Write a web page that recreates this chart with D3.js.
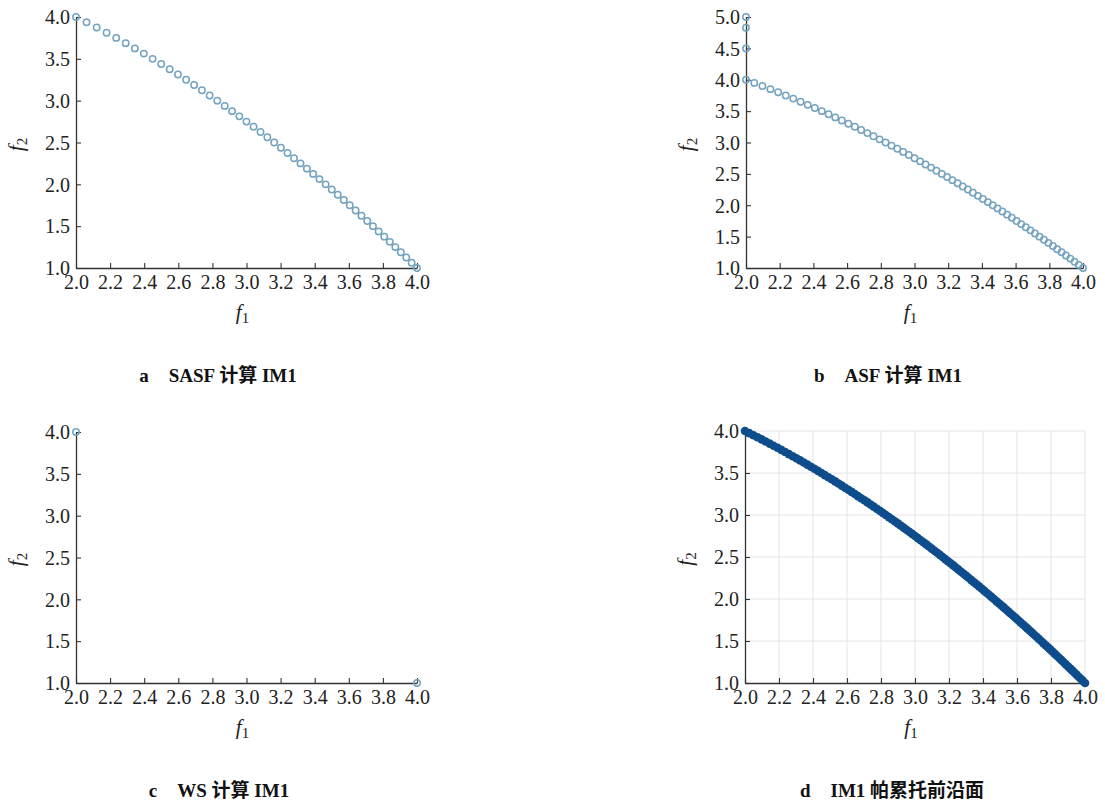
<!DOCTYPE html>
<html>
<head>
<meta charset="utf-8">
<script src="https://cdn.jsdelivr.net/npm/d3@7"></script>
<style>
  html, body { margin: 0; padding: 0; background: #fff; }
  svg { display: block; }
</style>
</head>
<body>
<svg id="chart" width="1105" height="802"></svg>
<script>
// Pareto solutions of IM1 (f1, f2) found by each method
const xTicks = [2.0, 2.2, 2.4, 2.6, 2.8, 3.0, 3.2, 3.4, 3.6, 3.8, 4.0];
const yTicks4 = [1.0, 1.5, 2.0, 2.5, 3.0, 3.5, 4.0];
const yTicks5 = [1.0, 1.5, 2.0, 2.5, 3.0, 3.5, 4.0, 4.5, 5.0];

// a  SASF
const sasfF1 = [2.0000, 2.0616, 2.1213, 2.1794, 2.2361, 2.2913, 2.3452, 2.3979, 2.4495, 2.5000,
  2.5495, 2.5981, 2.6458, 2.6926, 2.7386, 2.7839, 2.8284, 2.8723, 2.9155, 2.9580,
  3.0000, 3.0414, 3.0822, 3.1225, 3.1623, 3.2016, 3.2404, 3.2787, 3.3166, 3.3541,
  3.3912, 3.4278, 3.4641, 3.5000, 3.5355, 3.5707, 3.6056, 3.6401, 3.6742, 3.7081,
  3.7417, 3.7749, 3.8079, 3.8406, 3.8730, 3.9051, 3.9370, 3.9686, 4.0000];
const sasfF2 = [4.0000, 3.9375, 3.8750, 3.8125, 3.7500, 3.6875, 3.6250, 3.5625, 3.5000, 3.4375,
  3.3750, 3.3125, 3.2500, 3.1875, 3.1250, 3.0625, 3.0000, 2.9375, 2.8750, 2.8125,
  2.7500, 2.6875, 2.6250, 2.5625, 2.5000, 2.4375, 2.3750, 2.3125, 2.2500, 2.1875,
  2.1250, 2.0625, 2.0000, 1.9375, 1.8750, 1.8125, 1.7500, 1.6875, 1.6250, 1.5625,
  1.5000, 1.4375, 1.3750, 1.3125, 1.2500, 1.1875, 1.1250, 1.0625, 1.0000];

// b  ASF
const asfF1 = [2.0000, 2.0000, 2.0000, 2.0000, 2.0494, 2.0976, 2.1448, 2.1909, 2.2361, 2.2804,
  2.3238, 2.3664, 2.4083, 2.4495, 2.4900, 2.5298, 2.5690, 2.6077, 2.6458, 2.6833,
  2.7203, 2.7568, 2.7928, 2.8284, 2.8636, 2.8983, 2.9326, 2.9665, 3.0000, 3.0332,
  3.0659, 3.0984, 3.1305, 3.1623, 3.1937, 3.2249, 3.2558, 3.2863, 3.3166, 3.3466,
  3.3764, 3.4059, 3.4351, 3.4641, 3.4928, 3.5214, 3.5496, 3.5777, 3.6056, 3.6332,
  3.6606, 3.6878, 3.7148, 3.7417, 3.7683, 3.7947, 3.8210, 3.8471, 3.8730, 3.8987,
  3.9243, 3.9497, 3.9749, 4.0000];
const asfF2 = [5.00, 4.83, 4.50, 4.00, 3.95, 3.90, 3.85, 3.80, 3.75, 3.70,
  3.65, 3.60, 3.55, 3.50, 3.45, 3.40, 3.35, 3.30, 3.25, 3.20,
  3.15, 3.10, 3.05, 3.00, 2.95, 2.90, 2.85, 2.80, 2.75, 2.70,
  2.65, 2.60, 2.55, 2.50, 2.45, 2.40, 2.35, 2.30, 2.25, 2.20,
  2.15, 2.10, 2.05, 2.00, 1.95, 1.90, 1.85, 1.80, 1.75, 1.70,
  1.65, 1.60, 1.55, 1.50, 1.45, 1.40, 1.35, 1.30, 1.25, 1.20,
  1.15, 1.10, 1.05, 1.00];

// c  WS
const wsF1 = [2.0, 4.0];
const wsF2 = [4.0, 1.0];

// d  IM1 Pareto front
const frontF1 = [2.0000, 2.0248, 2.0494, 2.0736, 2.0976, 2.1213, 2.1448, 2.1679, 2.1909, 2.2136,
  2.2361, 2.2583, 2.2804, 2.3022, 2.3238, 2.3452, 2.3664, 2.3875, 2.4083, 2.4290,
  2.4495, 2.4698, 2.4900, 2.5100, 2.5298, 2.5495, 2.5690, 2.5884, 2.6077, 2.6268,
  2.6458, 2.6646, 2.6833, 2.7019, 2.7203, 2.7386, 2.7568, 2.7749, 2.7928, 2.8107,
  2.8284, 2.8460, 2.8636, 2.8810, 2.8983, 2.9155, 2.9326, 2.9496, 2.9665, 2.9833,
  3.0000, 3.0166, 3.0332, 3.0496, 3.0659, 3.0822, 3.0984, 3.1145, 3.1305, 3.1464,
  3.1623, 3.1780, 3.1937, 3.2094, 3.2249, 3.2404, 3.2558, 3.2711, 3.2863, 3.3015,
  3.3166, 3.3317, 3.3466, 3.3615, 3.3764, 3.3912, 3.4059, 3.4205, 3.4351, 3.4496,
  3.4641, 3.4785, 3.4928, 3.5071, 3.5214, 3.5355, 3.5496, 3.5637, 3.5777, 3.5917,
  3.6056, 3.6194, 3.6332, 3.6469, 3.6606, 3.6742, 3.6878, 3.7014, 3.7148, 3.7283,
  3.7417, 3.7550, 3.7683, 3.7815, 3.7947, 3.8079, 3.8210, 3.8341, 3.8471, 3.8601,
  3.8730, 3.8859, 3.8987, 3.9115, 3.9243, 3.9370, 3.9497, 3.9623, 3.9749, 3.9875,
  4.0000];
const frontF2 = [4.000, 3.975, 3.950, 3.925, 3.900, 3.875, 3.850, 3.825, 3.800, 3.775,
  3.750, 3.725, 3.700, 3.675, 3.650, 3.625, 3.600, 3.575, 3.550, 3.525,
  3.500, 3.475, 3.450, 3.425, 3.400, 3.375, 3.350, 3.325, 3.300, 3.275,
  3.250, 3.225, 3.200, 3.175, 3.150, 3.125, 3.100, 3.075, 3.050, 3.025,
  3.000, 2.975, 2.950, 2.925, 2.900, 2.875, 2.850, 2.825, 2.800, 2.775,
  2.750, 2.725, 2.700, 2.675, 2.650, 2.625, 2.600, 2.575, 2.550, 2.525,
  2.500, 2.475, 2.450, 2.425, 2.400, 2.375, 2.350, 2.325, 2.300, 2.275,
  2.250, 2.225, 2.200, 2.175, 2.150, 2.125, 2.100, 2.075, 2.050, 2.025,
  2.000, 1.975, 1.950, 1.925, 1.900, 1.875, 1.850, 1.825, 1.800, 1.775,
  1.750, 1.725, 1.700, 1.675, 1.650, 1.625, 1.600, 1.575, 1.550, 1.525,
  1.500, 1.475, 1.450, 1.425, 1.400, 1.375, 1.350, 1.325, 1.300, 1.275,
  1.250, 1.225, 1.200, 1.175, 1.150, 1.125, 1.100, 1.075, 1.050, 1.025,
  1.000];

const captions = [
  ["a", "SASF 计算 IM1"],
  ["b", "ASF 计算 IM1"],
  ["c", "WS 计算 IM1"],
  ["d", "IM1 帕累托前沿面"]
];

const SERIF = "'Liberation Serif', 'Times New Roman', serif";
const CAPFONT = "'Liberation Serif', 'Noto Sans CJK SC', serif";

const svg = d3.select("#chart");

const panels = [
  { f1: sasfF1, f2: sasfF2, yDomain: [1, 4], yTicks: yTicks4, left: 76, right: 417, top: 17, bottom: 268, style: "open", cap: captions[0], capX: 218, capY: 382 },
  { f1: asfF1, f2: asfF2, yDomain: [1, 5], yTicks: yTicks5, left: 746, right: 1083, top: 17, bottom: 268, style: "open", cap: captions[1], capX: 888, capY: 382 },
  { f1: wsF1, f2: wsF2, yDomain: [1, 4], yTicks: yTicks4, left: 76, right: 417, top: 432, bottom: 683, style: "open", cap: captions[2], capX: 219, capY: 797 },
  { f1: frontF1, f2: frontF2, yDomain: [1, 4], yTicks: yTicks4, left: 745, right: 1085, top: 431, bottom: 683, style: "filled", grid: true, cap: captions[3], capX: 892, capY: 797 }
];

const defs = svg.append("defs");
defs.append("filter").attr("id", "soft")
  .append("feGaussianBlur").attr("stdDeviation", 0.45);

panels.forEach(p => {
  const x = d3.scaleLinear().domain([2, 4]).range([p.left, p.right]);
  const y = d3.scaleLinear().domain(p.yDomain).range([p.bottom, p.top]);
  const g = svg.append("g");

  if (p.grid) {
    const grid = g.append("g").attr("stroke", "#e4e4e4").attr("stroke-width", 1);
    grid.selectAll("line.v").data(xTicks.slice(1)).join("line")
      .attr("x1", d => x(d)).attr("x2", d => x(d))
      .attr("y1", p.top).attr("y2", p.bottom);
    grid.selectAll("line.h").data(p.yTicks.slice(1)).join("line")
      .attr("y1", d => y(d)).attr("y2", d => y(d))
      .attr("x1", p.left).attr("x2", p.right);
  }

  // axes with inward ticks
  const xAxis = d3.axisBottom(x).tickValues(xTicks).tickFormat(d3.format(".1f"))
    .tickSizeInner(-5).tickSizeOuter(0).tickPadding(7);
  const yAxis = d3.axisLeft(y).tickValues(p.yTicks).tickFormat(d3.format(".1f"))
    .tickSizeInner(-5).tickSizeOuter(0).tickPadding(6);

  const gx = g.append("g").attr("transform", `translate(0,${p.bottom})`).call(xAxis);
  const gy = g.append("g").attr("transform", `translate(${p.left},0)`).call(yAxis);
  [gx, gy].forEach(a => {
    a.attr("font-family", SERIF).attr("font-size", 20);
    a.select(".domain").attr("stroke", "#333").attr("stroke-width", 1.3);
    a.selectAll(".tick line").attr("stroke", "#333").attr("stroke-width", 1.1);
    a.selectAll(".tick text").attr("fill", "#222");
  });
  gx.selectAll(".tick text").attr("dy", "0.7em");
  gy.selectAll(".tick text").attr("dy", "0.34em");

  // axis titles
  const xt = g.append("text")
    .attr("font-family", SERIF).attr("font-size", 21).attr("fill", "#222")
    .attr("x", (p.left + p.right) / 2 - 4).attr("y", p.bottom + 51)
    .attr("text-anchor", "middle");
  xt.append("tspan").attr("font-style", "italic").text("f");
  xt.append("tspan").attr("font-size", 15).attr("dy", 4).text("1");

  const yt = g.append("text")
    .attr("font-family", SERIF).attr("font-size", 21).attr("fill", "#222")
    .attr("transform", `translate(${p.left - 53},${(p.top + p.bottom) / 2 + 2}) rotate(-90)`)
    .attr("text-anchor", "middle");
  yt.append("tspan").attr("font-style", "italic").text("f");
  yt.append("tspan").attr("font-size", 15).attr("dy", 4).text("2");

  const pts = d3.zip(p.f1, p.f2);
  const marks = g.append("g").attr("filter", "url(#soft)");
  if (p.style === "open") {
    marks.selectAll("circle").data(pts).join("circle")
      .attr("cx", d => x(d[0])).attr("cy", d => y(d[1]))
      .attr("r", 3.2)
      .attr("fill", "none")
      .attr("stroke", "#74a3bf")
      .attr("stroke-width", 1.5);
  } else {
    marks.selectAll("circle").data(pts).join("circle")
      .attr("cx", d => x(d[0])).attr("cy", d => y(d[1]))
      .attr("r", 4.3)
      .attr("fill", "#0f4d8c");
  }

  // caption
  const c = svg.append("text")
    .attr("font-family", CAPFONT).attr("font-weight", "bold").attr("font-size", 19).attr("fill", "#111")
    .attr("x", p.capX).attr("y", p.capY).attr("text-anchor", "middle");
  c.append("tspan").text(p.cap[0]);
  c.append("tspan").attr("dx", 20).text(p.cap[1]);
});
</script>
</body>
</html>
